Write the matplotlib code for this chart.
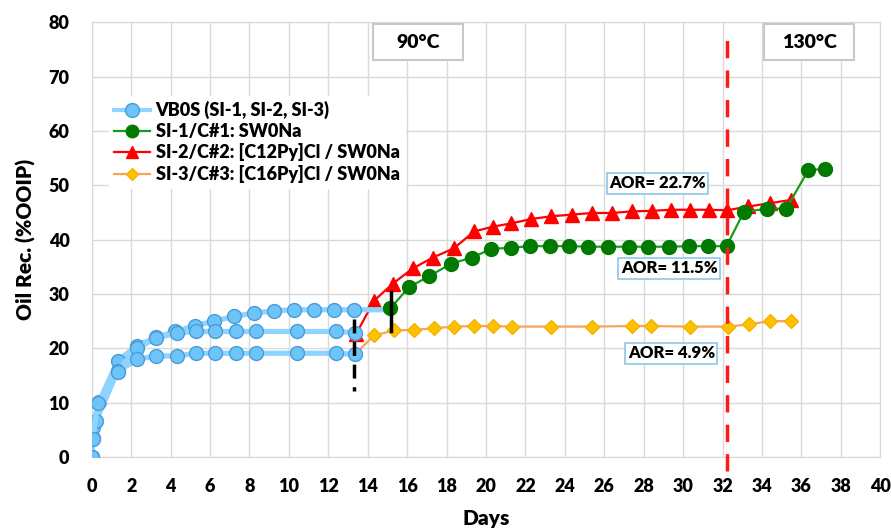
import matplotlib
matplotlib.use("Agg")
import matplotlib.pyplot as plt
from matplotlib.lines import Line2D
from matplotlib.patches import Rectangle

# VB0S (spontaneous imbibition in brine), three cores
vbos1_days = [0, 0.05, 0.37, 1.32, 2.29, 3.27, 4.24, 5.26, 6.22, 7.24, 8.22, 9.24, 10.26, 11.25, 12.3, 13.28, 15.15]
vbos1_rec = [0, 5.5, 10.2, 17.7, 20.5, 22.0, 23.1, 24.2, 25.0, 25.9, 26.5, 26.9, 27.1, 27.1, 27.1, 27.1, 27.1]
vbos2_days = [0, 0.05, 0.22, 1.32, 2.29, 3.27, 4.3, 5.3, 6.25, 7.3, 8.35, 10.4, 12.4, 13.35]
vbos2_rec = [0, 3.5, 6.6, 15.9, 20.0, 21.9, 22.8, 23.1, 23.1, 23.1, 23.1, 23.1, 23.1, 22.9]
vbos3_days = [0, 0.05, 0.3, 1.32, 2.29, 3.27, 4.3, 5.3, 6.25, 7.3, 8.35, 10.4, 12.4, 13.35]
vbos3_rec = [0, 3.4, 10.0, 15.7, 18.0, 18.6, 18.6, 19.1, 19.1, 19.1, 19.1, 19.1, 19.1, 18.9]

# SI-1 / C#1
si1_days = [15.15, 16.11, 17.13, 18.23, 19.29, 20.27, 21.25, 22.22, 23.24, 24.2, 25.19, 26.21,
            27.23, 28.24, 29.29, 30.3, 31.28, 32.2, 33.08, 34.26, 35.23, 36.35, 37.2]
si1_rec = [27.4, 31.3, 33.3, 35.6, 36.7, 38.3, 38.5, 38.8, 38.8, 38.8, 38.7, 38.7,
           38.7, 38.7, 38.7, 38.8, 38.8, 38.8, 45.1, 45.7, 45.7, 52.8, 53.0]

# SI-2 / C#2
si2_days = [13.4, 14.33, 15.27, 16.28, 17.3, 18.37, 19.39, 20.36, 21.29, 22.3, 23.32, 24.34,
            25.36, 26.38, 27.39, 28.41, 29.4, 30.36, 31.3, 32.23, 33.3, 34.4, 35.45]
si2_rec = [22.6, 28.8, 31.9, 34.7, 36.7, 38.4, 41.5, 42.4, 43.0, 43.8, 44.3, 44.6,
           44.9, 44.9, 45.2, 45.3, 45.5, 45.5, 45.5, 45.4, 46.1, 46.7, 47.3]

# SI-3 / C#3
si3_days = [13.35, 14.33, 15.35, 16.37, 17.35, 18.37, 19.39, 20.36, 21.32, 23.32, 25.36, 27.39,
            28.37, 30.36, 32.25, 33.33, 34.38, 35.45]
si3_rec = [18.9, 22.4, 23.3, 23.4, 23.7, 24.0, 24.1, 24.1, 24.0, 24.0, 24.0, 24.1,
           24.1, 24.0, 24.0, 24.4, 25.0, 25.0]

labels = ["VB0S (SI-1, SI-2, SI-3)", "SI-1/C#1: SW0Na",
          "SI-2/C#2: [C12Py]Cl / SW0Na", "SI-3/C#3: [C16Py]Cl / SW0Na"]
aor_labels = ["AOR= 22.7%", "AOR= 11.5%", "AOR= 4.9%"]
temp_labels = ["90°C", "130°C"]
temp_change_day = 32.2

plt.rcParams['font.family'] = ['Lato', 'DejaVu Sans']
W = 'heavy'

fig = plt.figure(figsize=(8.91, 5.29), dpi=100)
ax = fig.add_axes([0.103, 0.136, 0.885, 0.822])

blue_line = '#8fd3ff'
blue_face = '#6cc4f8'
blue_edge = '#4a9bd6'
for d, r in [(vbos1_days, vbos1_rec), (vbos2_days, vbos2_rec), (vbos3_days, vbos3_rec)]:
    n = len(d) - 1 if d is vbos1_days else len(d)
    ax.plot(d, r, color=blue_line, lw=3.8, marker='o', ms=10, mfc=blue_face, mec=blue_edge,
            mew=1, zorder=5, markevery=list(range(n)))

ax.plot(si2_days, si2_rec, color='#ff0000', lw=1.6, marker='^', ms=10, mfc='#ff0000',
        mec='#ff0000', zorder=4)
ax.plot(si3_days, si3_rec, color='#f7a35c', lw=1.6, marker='D', ms=7, mfc='#ffc000',
        mec='#f5b000', zorder=4, markevery=list(range(1, len(si3_days))))
ax.plot(si1_days, si1_rec, color='#1a9a1a', lw=1.6, marker='o', ms=10, mfc='#007a00',
        mec='#007a00', zorder=6)

# injection markers
ax.plot([13.28, 13.28], [25.4, 12.1], color='black', lw=2.5, ls=(0, (4, 2.5)), zorder=7)
ax.plot([15.2, 15.2], [30.4, 23.2], color='black', lw=2.5, zorder=7)

# temperature change
ax.plot([temp_change_day, temp_change_day], [-2.5, 78.5], color='#ff1a1a', lw=2.5,
        ls=(0, (5, 3.5)), zorder=7, clip_on=False)

ax.set_xlim(0, 40)
ax.set_ylim(0, 80)
ax.set_xticks(range(0, 41, 2))
ax.set_yticks(range(0, 81, 10))
ax.grid(True, color='#d9d9d9', lw=1)
ax.set_axisbelow(True)
for s in ax.spines.values():
    s.set_color('#d9d9d9')
ax.tick_params(axis='x', length=0, labelsize=13, pad=15)
ax.tick_params(axis='y', length=0, labelsize=13, pad=16)
for t in ax.get_xticklabels() + ax.get_yticklabels():
    t.set_fontweight(W)
ax.set_xlabel('Days', fontsize=15, fontweight=W, labelpad=10)
ax.set_ylabel('Oil Rec. (%OOIP)', fontsize=15, fontweight=W, labelpad=9)

# temperature boxes
for (x0, x1), lab in zip([(14.26, 18.85), (34.1, 38.68)], temp_labels):
    ax.add_patch(Rectangle((x0, 73.0), x1 - x0, 6.7, fc='white', ec='#c8c8c8', lw=1.5, zorder=6))
    ax.text((x0 + x1) / 2, 76.35, lab, ha='center', va='center', fontsize=14, fontweight=W, zorder=7)

abox = dict(boxstyle='square,pad=0.15', fc='white', ec='#8ec5ea', lw=1.2)
ax.text(28.7, 50.4, aor_labels[0], ha='center', va='center', fontsize=12, fontweight=W, bbox=abox, zorder=8)
ax.text(29.3, 34.7, aor_labels[1], ha='center', va='center', fontsize=12, fontweight=W, bbox=abox, zorder=8)
ax.text(29.4, 19.1, aor_labels[2], ha='center', va='center', fontsize=12, fontweight=W, bbox=abox, zorder=8)

handles = [
    Line2D([], [], color=blue_line, lw=3, marker='o', ms=10, mfc=blue_face, mec=blue_edge),
    Line2D([], [], color='#1a9a1a', lw=1.6, marker='o', ms=9, mfc='#007a00', mec='#007a00'),
    Line2D([], [], color='#ff0000', lw=1.6, marker='^', ms=9, mfc='#ff0000', mec='#ff0000'),
    Line2D([], [], color='#f7a35c', lw=1.6, marker='D', ms=6, mfc='#ffc000', mec='#f5b000'),
]
leg = ax.legend(handles, labels, loc='upper left', bbox_to_anchor=(0.01, 0.852), frameon=True,
                fancybox=False, edgecolor='white', framealpha=1, fontsize=13,
                handlelength=2.0, handletextpad=0.3, labelspacing=0.2, borderpad=0.3)
for t in leg.get_texts():
    t.set_fontweight(W)

fig.savefig('out.png', dpi=100)
